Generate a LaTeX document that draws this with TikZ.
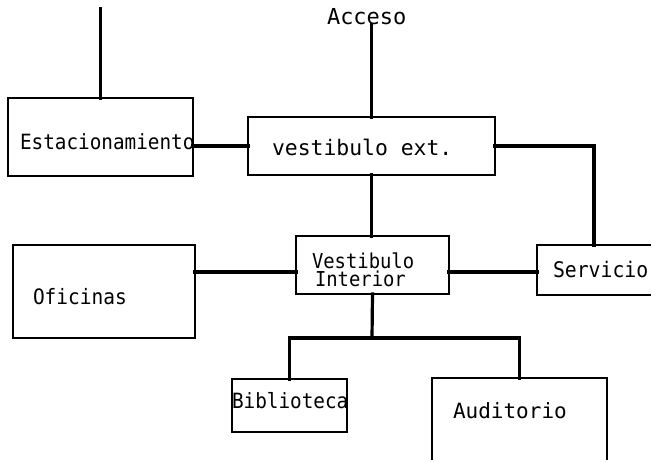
\documentclass[tikz,border=0pt]{standalone}
\usepackage{fontspec}
\newfontfamily\tw[FakeStretch=0.92]{DejaVu Sans Mono}
\newfontfamily\twwide{DejaVu Sans Mono}
\begin{document}
\begin{tikzpicture}[x=1pt,y=1pt,
  box/.style={draw=black,line width=2pt,rectangle,inner sep=0pt,outer sep=0pt},
  openbox/.style={draw=none,rectangle,inner sep=0pt,outer sep=0pt},
  conn/.style={draw=black,line width=3.2pt,line cap=rect},
  side/.style={draw=black,line width=2pt},
  lab/.style={anchor=base west,inner sep=0pt,outer sep=0pt,font=\tw\fontsize{21}{22}\selectfont},
  biglab/.style={lab,font=\twwide\fontsize{21}{22}\selectfont}]
\useasboundingbox (0,0) rectangle (652,461);
\fill[white] (0,0) rectangle (652,461);
% boxes
\node[box,minimum width=185pt,minimum height=78pt] (estac) at (100.5,324) {};
\node[box,minimum width=247pt,minimum height=58pt] (vext) at (371.5,315) {};
\node[box,minimum width=153pt,minimum height=58pt] (vint) at (372.5,196) {};
\node[box,minimum width=182pt,minimum height=93pt] (ofic) at (104,169.5) {};
\node[box,minimum width=115pt,minimum height=53pt] (bibl) at (289.5,55.5) {};
\node[openbox,minimum width=114pt,minimum height=50pt] (serv) at (594,191) {};
\node[openbox,minimum width=175pt,minimum height=82pt] (audi) at (519.5,42) {};
\draw[side] (serv.north east) -- (serv.north west) -- (serv.south west) -- (serv.south east);
\draw[side] (audi.south west) -- (audi.north west) -- (audi.north east) -- (audi.south east);
% labels
\node[biglab,font=\twwide\fontsize{22}{23}\selectfont] (tacc) at (327,436) {Acceso};
\node[lab] (testac) at (20,311) {Estacionamiento};
\node[biglab,font=\twwide\fontsize{21.4}{22}\selectfont] (tvext) at (272,305) {vestibulo ext.};
\node[lab,anchor=north west,align=left,font=\tw\fontsize{20.5}{18.5}\selectfont] (tvint) at (312,208.5) {Vestibulo\\\hspace*{3pt}Interior};
\node[lab,font=\tw\fontsize{21.5}{22}\selectfont] (tserv) at (553,184) {Servicio};
\node[lab,font=\tw\fontsize{21.2}{22}\selectfont] (tofic) at (33,157) {Oficinas};
\node[lab] (tbibl) at (232,53) {Biblioteca};
\node[biglab] (taudi) at (453,43) {Auditorio};
% free ends
\coordinate (topleft) at (100.5,452);
\coordinate (acctop) at (vext.north |- tacc.base);
\coordinate (junc) at (372,123);
% connectors
\draw[conn] (estac.north) -- (topleft);
\draw[conn] (acctop) -- (vext.north);
\draw[conn] (vext.west) -- (vext.west -| estac.east);
\draw[conn] (vext.east) -| (serv.north);
\draw[conn] (vext.south) -- (vext.south |- vint.north);
\draw[conn] ([yshift=-7pt]vint.west) -- ([yshift=-7pt]vint.west -| ofic.east);
\draw[conn] ([yshift=-7pt]vint.east) -- ([yshift=-7pt]vint.east -| serv.west);
\draw[conn] (vint.south) -- (junc);
\draw[conn] (bibl.north) |- (junc) -| (audi.north);
\end{tikzpicture}
\end{document}
